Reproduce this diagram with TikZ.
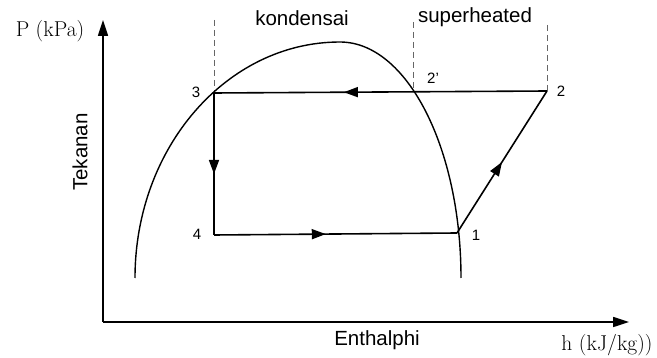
\documentclass[tikz,border=0pt]{standalone}
\usepackage{fontspec}
\newfontfamily\arialsans{Liberation Sans}
\usetikzlibrary{arrows.meta,decorations.markings}
\tikzset{
  axis/.style={line width=1.7pt,-{Triangle[length=16pt,width=10pt]}},
  cycleline/.style={line width=1.6pt},
  dome/.style={line width=1.4pt},
  guide/.style={line width=1pt,black!60,dash pattern=on 6pt off 4pt},
  bigsans/.style={font=\arialsans\fontsize{20.5}{24}\selectfont,inner sep=0pt},
  bigserif/.style={font=\fontsize{21.5}{25}\selectfont,inner sep=0pt},
  numlabel/.style={font=\arialsans\fontsize{15}{18}\selectfont,inner sep=0pt},
  midarrow/.style={postaction={decorate},decoration={markings,
     mark=at position #1 with {\arrow{Triangle[length=14pt,width=10pt]}}}}
}
\begin{document}
\begin{tikzpicture}[x=1pt,y=-1pt]
\useasboundingbox (0,0) rectangle (657,358);
% coordinates
\coordinate (o) at (103,322);
\coordinate (ytip) at (103,20);
\coordinate (xtip) at (629,322);
\coordinate (p1) at (457,233);
\coordinate (p2) at (547,91);
\coordinate (p2p) at (413,92);
\coordinate (p3) at (214,93);
\coordinate (p4) at (214,235);
\coordinate (d1) at (214,20);
\coordinate (d2) at (413,22);
\coordinate (d3) at (547,25);
\coordinate (domestart) at (135,278);
% axes
\draw[axis] (o) -- (ytip);
\draw[axis] (o) -- (xtip);
% guide lines
\draw[guide] (d1) -- (p3);
\draw[guide] (d2) -- (p2p);
\draw[guide] (d3) -- (p2);
% saturation dome
\draw[dome] (domestart) arc[start angle=180,end angle=270,x radius=205,y radius=236]
   arc[start angle=270,end angle=360,x radius=121,y radius=236];
% cycle
\draw[cycleline,midarrow=0.61] (p2) -- (p3);
\draw[cycleline,midarrow=0.57] (p3) -- (p4);
\draw[cycleline,midarrow=0.46] (p4) -- (p1);
\draw[cycleline,midarrow=0.5] (p1) -- (p2);
% labels
\node[bigserif] (lp) at (50,31) {P (kPa)};
\node[bigsans,rotate=90] (lt) at (80,152) {Tekanan};
\node[bigsans] (le) at (377,340) {Enthalphi};
\node[bigserif] (lh) at (607,345) {h (kJ/kg))};
\node[bigsans] (lk) at (302,18) {kondensai};
\node[bigsans] (ls) at (475,17) {superheated};
\node[numlabel] (n3) at (196,92) {3};
\node[numlabel] (n4) at (197,234) {4};
\node[numlabel] (n2p) at (433,78) {2’};
\node[numlabel] (n2) at (561,91) {2};
\node[numlabel] (n1) at (476,235) {1};
\end{tikzpicture}
\end{document}
